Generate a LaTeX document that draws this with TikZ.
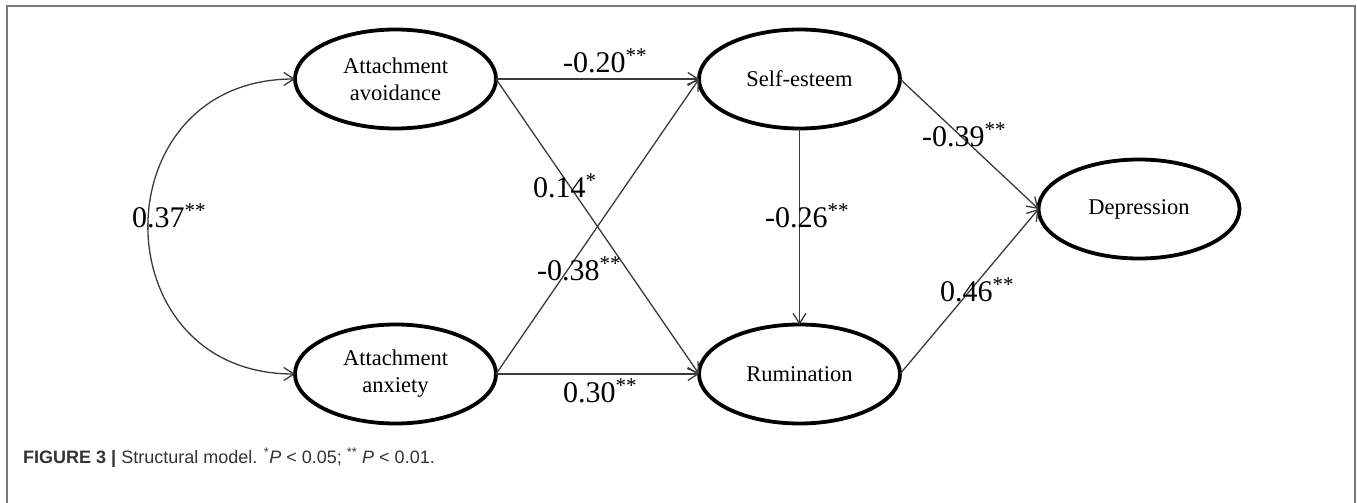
\documentclass[tikz,border=0pt]{standalone}
\usepackage{fontspec}
\setmainfont{Liberation Serif}
\newfontfamily\capfont{Liberation Sans}
\usetikzlibrary{shapes.geometric,arrows.meta}
\definecolor{linecol}{HTML}{3A3A3A}
\definecolor{framecol}{HTML}{7A7A7A}
\definecolor{capcol}{HTML}{333333}
\begin{document}
\begin{tikzpicture}[x=1pt,y=-1pt,
  latent/.style={ellipse,draw=black,line width=3.8pt,minimum width=201pt,minimum height=99pt,inner sep=0pt,outer sep=0pt,align=center,font=\fontsize{22.5}{27}\selectfont},
  conn/.style={draw=linecol,line width=1.3pt,-{Straight Barb[length=10pt,width=13pt]}},
  coef/.style={anchor=base west,inner sep=0pt,font=\fontsize{30}{36}\selectfont}]
\useasboundingbox (0,0) rectangle (1357,503);
% frame
\draw[framecol,line width=2pt] (7,503) -- (7,6) -- (1355,6) -- (1355,503);
% nodes
\node[latent] (avo) at (395.5,79) {Attachment\\avoidance};
\node[latent] (anx) at (395.5,374) {Attachment\\anxiety};
\node[latent] (se) at (799.5,79) {Self-esteem};
\node[latent] (rum) at (799.5,374) {Rumination};
\node[latent] (dep) at (1139,209) {Depression};
% connectors
\draw[conn] (avo.east) -- (se.west);
\draw[conn] (avo.east) -- (rum.west);
\draw[conn] (anx.east) -- (se.west);
\draw[conn] (anx.east) -- (rum.west);
\draw[conn] (se.south) -- (rum.north);
\draw[conn] (se.east) -- (dep.west);
\draw[conn] (rum.east) -- (dep.west);
\draw[draw=linecol,line width=1.3pt,{Straight Barb[length=10pt,width=13pt]}-{Straight Barb[length=10pt,width=13pt]}] (anx.west) to[out=180,in=180,looseness=1.7] (avo.west);
% coefficients
\node[coef] (l1) at (563,72) {-0.20\textsuperscript{**}};
\node[coef] (l2) at (563,402) {0.30\textsuperscript{**}};
\node[coef] (l3) at (533,197) {0.14\textsuperscript{*}};
\node[coef] (l4) at (537,280) {-0.38\textsuperscript{**}};
\node[coef] (l5) at (132,227) {0.37\textsuperscript{**}};
\node[coef] (l6) at (765,227) {-0.26\textsuperscript{**}};
\node[coef] (l7) at (922,146) {-0.39\textsuperscript{**}};
\node[coef] (l8) at (940,301) {0.46\textsuperscript{**}};
% caption
\node[anchor=base west,inner sep=0pt,font=\capfont\fontsize{18}{22}\selectfont,text=capcol] (cap) at (23,463) {\textbf{FIGURE 3 |} Structural model. \textsuperscript{*}\textit{P} < 0.05; \textsuperscript{**} \textit{P} < 0.01.};
\end{tikzpicture}
\end{document}
